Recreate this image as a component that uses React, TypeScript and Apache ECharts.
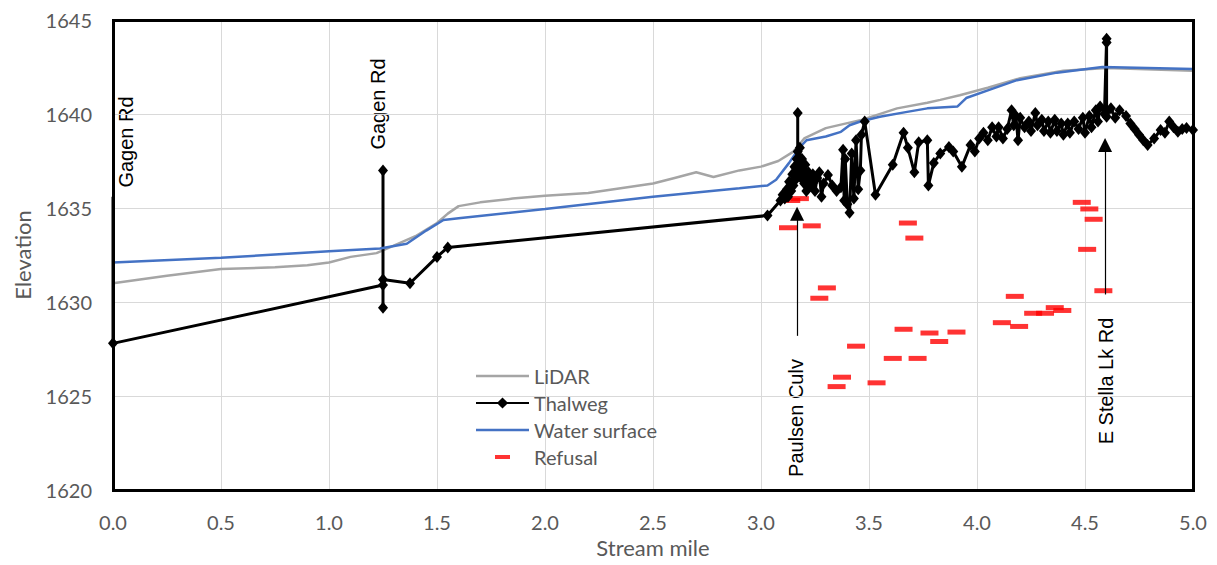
import React, { useEffect, useRef } from "react";
import * as echarts from "echarts";

const xTicks = [0, 0.5, 1, 1.5, 2, 2.5, 3, 3.5, 4, 4.5, 5];
const yTicks = [1620, 1625, 1630, 1635, 1640, 1645];

const lidar: [number, number][] = [
  [0, 1631.0], [0.25, 1631.4], [0.5, 1631.75], [0.75, 1631.85], [0.9, 1631.95], [1.0, 1632.1],
  [1.1, 1632.4], [1.22, 1632.6], [1.3, 1633.0], [1.4, 1633.5], [1.5, 1634.2], [1.55, 1634.7],
  [1.6, 1635.1], [1.7, 1635.3], [1.85, 1635.5], [2.0, 1635.65], [2.2, 1635.8], [2.35, 1636.05],
  [2.5, 1636.3], [2.6, 1636.6], [2.7, 1636.9], [2.78, 1636.65], [2.9, 1637.0], [3.0, 1637.2],
  [3.08, 1637.5], [3.15, 1638.0], [3.2, 1638.7], [3.3, 1639.25], [3.47, 1639.7], [3.63, 1640.3],
  [3.77, 1640.6], [3.83, 1640.75], [3.92, 1641.0], [4.05, 1641.4], [4.2, 1641.9], [4.4, 1642.3],
  [4.6, 1642.45], [5.0, 1642.3],
];

const thalweg: [number, number][] = [
  [0, 1635.6], [0, 1627.8], [1.25, 1630.9], [1.25, 1629.7], [1.25, 1637.0], [1.25, 1631.2],
  [1.375, 1631.0], [1.5, 1632.4], [1.55, 1632.9], [3.03, 1634.6], [3.09, 1635.4],
  [3.10, 1635.7], [3.11, 1635.5], [3.12, 1636.0], [3.125, 1635.6], [3.13, 1636.4], [3.14, 1635.9],
  [3.145, 1636.8], [3.15, 1636.2], [3.155, 1637.2], [3.16, 1636.5], [3.165, 1637.6], [3.17, 1636.8],
  [3.17, 1640.05], [3.17, 1638.0], [3.175, 1637.2], [3.18, 1638.2], [3.185, 1636.6], [3.19, 1637.6],
  [3.2, 1636.3], [3.205, 1637.3], [3.21, 1635.9], [3.22, 1636.9], [3.23, 1636.2], [3.24, 1636.8],
  [3.25, 1635.9], [3.26, 1636.6], [3.27, 1636.9], [3.28, 1635.6], [3.29, 1636.3], [3.31, 1636.75],
  [3.33, 1636.2], [3.35, 1635.9], [3.37, 1636.1], [3.38, 1638.1], [3.385, 1635.4], [3.39, 1637.6],
  [3.4, 1635.2], [3.41, 1634.75], [3.42, 1637.9], [3.43, 1635.5], [3.44, 1638.6], [3.45, 1636.0],
  [3.46, 1637.0], [3.465, 1638.9], [3.48, 1639.6], [3.53, 1635.7], [3.61, 1637.3], [3.66, 1639.0],
  [3.68, 1638.2], [3.71, 1636.9], [3.73, 1638.5], [3.77, 1638.6], [3.775, 1636.2], [3.8, 1637.4],
  [3.83, 1637.9], [3.87, 1638.25], [3.89, 1638.0], [3.93, 1637.2], [3.97, 1638.35], [3.99, 1638.0],
  [4.01, 1638.7], [4.03, 1639.0], [4.05, 1638.6], [4.07, 1639.3], [4.09, 1638.8], [4.1, 1639.3],
  [4.12, 1638.7], [4.14, 1639.2], [4.16, 1640.2], [4.17, 1639.4], [4.18, 1639.9], [4.19, 1638.6],
  [4.2, 1639.8], [4.22, 1639.3], [4.24, 1639.6], [4.25, 1639.1], [4.27, 1640.05], [4.28, 1639.4],
  [4.3, 1639.7], [4.31, 1639.1], [4.33, 1639.6], [4.34, 1639.0], [4.36, 1639.7], [4.37, 1639.1],
  [4.39, 1639.5], [4.4, 1638.9], [4.42, 1639.5], [4.43, 1639.0], [4.45, 1639.6], [4.47, 1639.2],
  [4.49, 1639.8], [4.5, 1639.0], [4.52, 1639.9], [4.53, 1639.3], [4.55, 1640.2], [4.56, 1639.6],
  [4.57, 1640.4], [4.59, 1640.0], [4.6, 1644.0], [4.6, 1643.8], [4.6, 1639.85], [4.62, 1640.3],
  [4.64, 1639.8], [4.66, 1640.2], [4.69, 1639.9], [4.71, 1639.5], [4.73, 1639.2], [4.75, 1638.9],
  [4.77, 1638.6], [4.79, 1638.35], [4.82, 1638.7], [4.85, 1639.15], [4.87, 1639.0], [4.89, 1639.6],
  [4.91, 1639.3], [4.93, 1639.05], [4.95, 1639.2], [4.97, 1639.25], [5.0, 1639.15],
];

const water: [number, number][] = [
  [0, 1632.1], [0.5, 1632.35], [1.0, 1632.7], [1.236, 1632.85], [1.36, 1633.1], [1.45, 1633.8],
  [1.53, 1634.36], [1.6, 1634.45], [2.0, 1634.95], [2.5, 1635.6], [2.9, 1636.05], [3.03, 1636.2],
  [3.07, 1636.5], [3.13, 1637.4], [3.16, 1637.9], [3.19, 1638.35], [3.21, 1638.6], [3.3, 1638.8],
  [3.37, 1639.05], [3.41, 1639.4], [3.46, 1639.6], [3.55, 1639.85], [3.67, 1640.1], [3.77, 1640.3],
  [3.91, 1640.4], [3.95, 1640.85], [4.06, 1641.3], [4.185, 1641.8], [4.37, 1642.2], [4.58, 1642.5],
  [5.0, 1642.4],
];

const refusal: [number, number][] = [
  [3.14, 1635.4], [3.18, 1635.5], [3.125, 1633.95], [3.235, 1634.05], [3.68, 1634.2], [3.71, 1633.4],
  [3.305, 1630.75], [3.27, 1630.2], [3.44, 1627.65], [3.375, 1626.0], [3.35, 1625.5], [3.535, 1625.7],
  [3.61, 1627.0], [3.66, 1628.55], [3.725, 1627.0], [3.78, 1628.35], [3.825, 1627.9], [3.905, 1628.4],
  [4.115, 1628.9], [4.175, 1630.3], [4.195, 1628.7], [4.26, 1629.4], [4.315, 1629.4], [4.36, 1629.7],
  [4.395, 1629.55], [4.485, 1635.3], [4.52, 1634.95], [4.54, 1634.4], [4.51, 1632.8], [4.585, 1630.6],
];

const arrows = [
  { name: "Paulsen Culv", x: 3.167, from: 1628.2, to: 1634.7 },
  { name: "E Stella Lk Rd", x: 4.593, from: 1630.4, to: 1638.35 },
];

const labelFont = "Lato, 'Liberation Sans', sans-serif";
const annFont = "20px 'Liberation Sans', Arial, sans-serif";
const lineIcon = "path://M0,0M53,14M0,5.75h53v2.5h-53z";

export default function App() {
  const ref = useRef<HTMLDivElement>(null);
  useEffect(() => {
    const chart = echarts.init(ref.current!, null, { renderer: "svg" });
    const gl = 113, gt = 20, gr = 1217 - 24, gb = 565 - 75;
    const bar = (x: number, y: number, width: number, height: number) => ({
      type: "rect", z: 100, silent: true, shape: { x, y, width, height }, style: { fill: "#000" },
    });
    chart.setOption({
      animation: false,
      backgroundColor: "#ffffff",
      grid: { left: gl, right: 24, top: gt, bottom: 75 },
      legend: {
        orient: "vertical", left: 470, top: 361, itemWidth: 53, itemHeight: 14, itemGap: 7,
        textStyle: { fontFamily: labelFont, fontSize: 20, color: "#595959", lineHeight: 20 },
        data: [
          { name: "LiDAR", icon: lineIcon },
          { name: "Thalweg" },
          { name: "Water surface", icon: lineIcon },
          { name: "Refusal", icon: "path://M0,0M53,14M19,5h15v4h-15z" },
        ],
      },
      xAxis: {
        type: "value", min: xTicks[0], max: xTicks[xTicks.length - 1], interval: 0.5,
        name: "Stream mile", nameLocation: "middle", nameGap: 45,
        nameTextStyle: { fontFamily: labelFont, fontSize: 22, color: "#595959" },
        axisLine: { show: false }, axisTick: { show: false },
        axisLabel: { fontFamily: labelFont, fontSize: 20, color: "#595959", margin: 22, formatter: (v: number) => v.toFixed(1) },
        splitLine: { show: true, lineStyle: { color: "#d9d9d9", width: 1 } },
      },
      yAxis: {
        type: "value", min: yTicks[0], max: yTicks[yTicks.length - 1], interval: 5,
        name: "Elevation", nameLocation: "middle", nameGap: 80,
        nameTextStyle: { fontFamily: labelFont, fontSize: 22, color: "#595959" },
        axisLine: { show: false }, axisTick: { show: false },
        axisLabel: { fontFamily: labelFont, fontSize: 20, color: "#595959", margin: 21, formatter: (v: number) => String(v) },
        splitLine: { show: true, lineStyle: { color: "#d9d9d9", width: 1 } },
      },
      series: [
        {
          name: "LiDAR", type: "line", data: lidar, symbol: "none",
          lineStyle: { color: "#a5a5a5", width: 2.5 }, itemStyle: { color: "#a5a5a5" },
        },
        {
          name: "Thalweg", type: "line",
          data: thalweg.map((p, i) => (i === 0 ? { value: p, symbol: "none" } : p)),
          symbol: "diamond", symbolSize: [10, 12], showAllSymbol: true,
          lineStyle: { color: "#000", width: 3 }, itemStyle: { color: "#000" },
          markLine: {
            silent: true, symbol: ["none", "triangle"], symbolSize: 14,
            label: { show: false }, lineStyle: { color: "#000", width: 1.2, type: "solid" },
            data: arrows.map((a) => [{ coord: [a.x, a.from] }, { coord: [a.x, a.to] }]),
          },
        },
        {
          name: "Water surface", type: "line", data: water, symbol: "none",
          lineStyle: { color: "#4472c4", width: 2.5 }, itemStyle: { color: "#4472c4" },
        },
        {
          name: "Refusal", type: "scatter", data: refusal, symbol: "rect", symbolSize: [18, 5],
          itemStyle: { color: "#ff0000" },
        },
      ],
      graphic: [
        bar(gl - 1, gt - 1, gr - gl + 3, 3),
        bar(gr - 1, gt - 1, 3, gb - gt + 3),
        bar(gl - 1, gt - 1, 3, gb - gt + 3),
        bar(gl - 1, gb - 1, gr - gl + 3, 3),
        { type: "text", x: 126, y: 142, rotation: Math.PI / 2, style: { text: "Gagen Rd", font: annFont, fill: "#000", textAlign: "center", textVerticalAlign: "middle" } },
        { type: "text", x: 378, y: 104, rotation: Math.PI / 2, style: { text: "Gagen Rd", font: annFont, fill: "#000", textAlign: "center", textVerticalAlign: "middle" } },
        { type: "text", x: 796, y: 418, rotation: Math.PI / 2, style: { text: "Paulsen Culv", font: annFont, fill: "#000", textAlign: "center", textVerticalAlign: "middle" } },
        { type: "text", x: 1106, y: 381, rotation: Math.PI / 2, style: { text: "E Stella Lk Rd", font: annFont, fill: "#000", textAlign: "center", textVerticalAlign: "middle" } },
      ],
    });
    return () => chart.dispose();
  }, []);
  return <div ref={ref} style={{ position: "fixed", left: 0, top: 0, width: 1217, height: 565 }} />;
}
